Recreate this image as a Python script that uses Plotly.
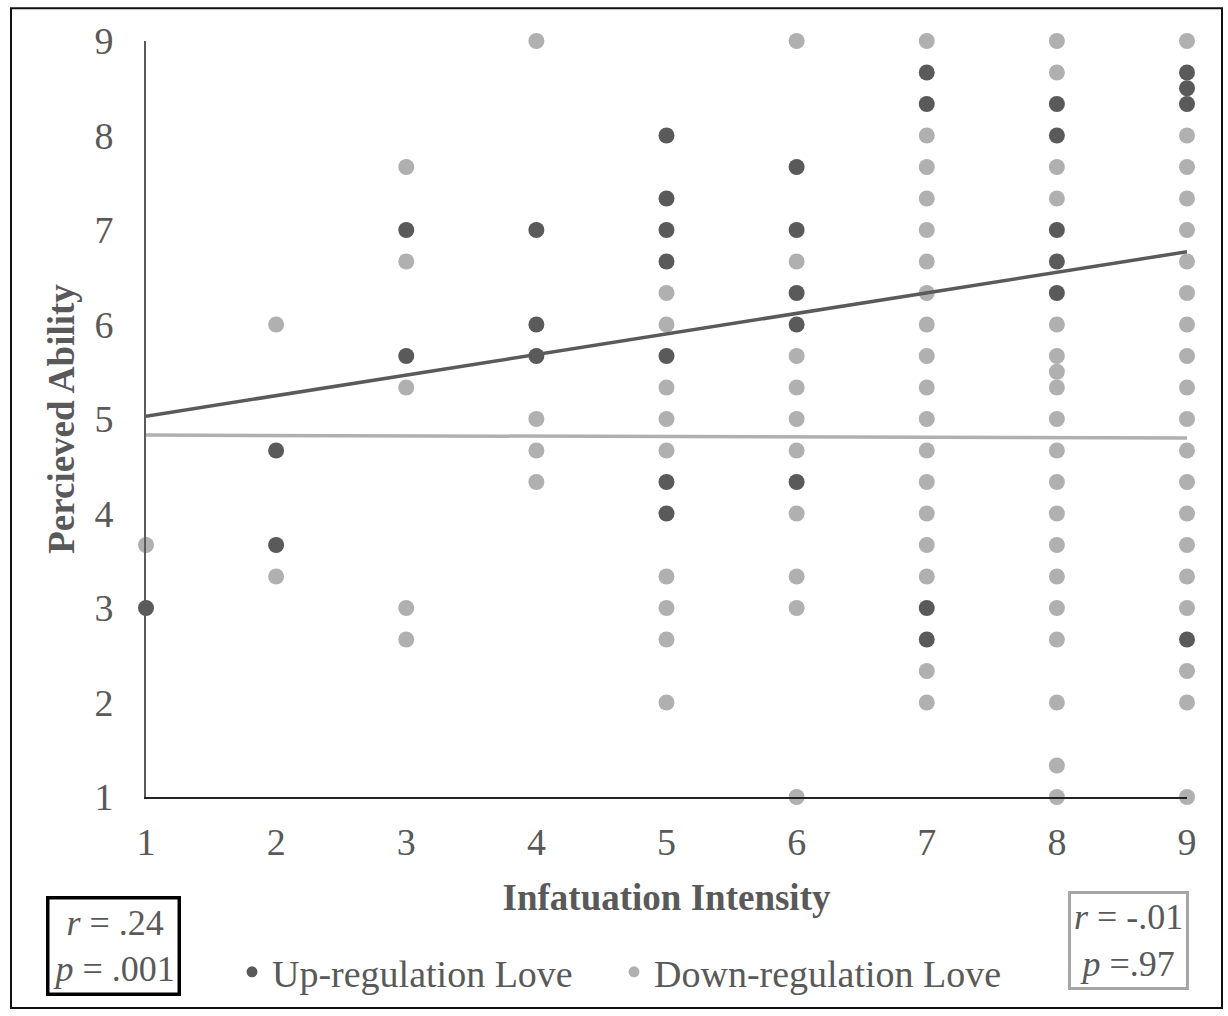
import plotly.graph_objects as go

# ---------------- data ----------------
x_ticks = [1, 2, 3, 4, 5, 6, 7, 8, 9]
y_ticks = [1, 2, 3, 4, 5, 6, 7, 8, 9]

up_x = [1,
        2, 2,
        3, 3,
        4, 4, 4,
        5, 5, 5, 5, 5, 5, 5,
        6, 6, 6, 6, 6,
        7, 7, 7, 7,
        8, 8, 8, 8, 8,
        9, 9, 9, 9]
up_y = [3,
        4.667, 3.667,
        7, 5.667,
        7, 6, 5.667,
        8, 7.333, 7, 6.667, 5.667, 4.333, 4,
        7.667, 7, 6.333, 6, 4.333,
        8.667, 8.333, 3, 2.667,
        8.333, 8, 7, 6.667, 6.333,
        8.667, 8.5, 8.333, 2.667]

down_x = [1,
          2, 2,
          3, 3, 3, 3, 3,
          4, 4, 4, 4,
          5, 5, 5, 5, 5, 5, 5, 5, 5,
          6, 6, 6, 6, 6, 6, 6, 6, 6, 6,
          7, 7, 7, 7, 7, 7, 7, 7, 7, 7, 7, 7, 7, 7, 7, 7, 7, 7,
          8, 8, 8, 8, 8, 8, 8, 8, 8, 8, 8, 8, 8, 8, 8, 8, 8, 8, 8,
          9, 9, 9, 9, 9, 9, 9, 9, 9, 9, 9, 9, 9, 9, 9, 9, 9, 9, 9, 9]
down_y = [3.667,
          6, 3.333,
          7.667, 6.667, 5.333, 3, 2.667,
          9, 5, 4.667, 4.333,
          6.333, 6, 5.333, 5, 4.667, 3.333, 3, 2.667, 2,
          9, 6.667, 5.667, 5.333, 5, 4.667, 4, 3.333, 3, 1,
          9, 8, 7.667, 7.333, 7, 6.667, 6.333, 6, 5.667, 5.333, 5, 4.667, 4.333, 4, 3.667, 3.333, 2.333, 2,
          9, 8.667, 7.667, 7.333, 6, 5.667, 5.5, 5.333, 5, 4.667, 4.333, 4, 3.667, 3.333, 3, 2.667, 2, 1.333, 1,
          9, 8, 7.667, 7.333, 7, 6.667, 6.333, 6, 5.667, 5.333, 5, 4.667, 4.333, 4, 3.667, 3.333, 3, 2.333, 2, 1]

# linear trend coefficients
up_intercept, up_slope = 4.8125, 0.2175
down_intercept, down_slope = 4.834, -0.004

series_names = ["Up-regulation Love", "Down-regulation Love"]
stats_up = ["<i>r</i> = .24", "<i>p</i> = .001"]
stats_down = ["<i>r</i> = -.01", "<i>p</i> =.97"]

# ---------------- style ----------------
DARK = "#5a5a5a"
LIGHT = "#b0b0b0"
TXT = "#595959"
FONT = "Liberation Serif"
FS = 38

W, H = 1228, 1016
L, R, T, B = 146, 41, 41, 215
PW, PH = W - L - R, H - T - B


def px(xp):
    return (xp - L) / PW


def py(yp):
    return (H - B - yp) / PH


fig = go.Figure()

fig.add_trace(go.Scatter(x=down_x, y=down_y, mode="markers", showlegend=False,
                         marker=dict(color=LIGHT, size=16), cliponaxis=False))
fig.add_trace(go.Scatter(x=up_x, y=up_y, mode="markers", showlegend=False,
                         marker=dict(color=DARK, size=16), cliponaxis=False))

tx = [x_ticks[0], x_ticks[-1]]
fig.add_trace(go.Scatter(x=tx, y=[up_intercept + up_slope * v for v in tx], mode="lines",
                         line=dict(color=DARK, width=3.5), showlegend=False, cliponaxis=False))
fig.add_trace(go.Scatter(x=tx, y=[down_intercept + down_slope * v for v in tx], mode="lines",
                         line=dict(color=LIGHT, width=3.5), showlegend=False, cliponaxis=False))

# legend-only traces
fig.add_trace(go.Scatter(x=[None], y=[None], mode="markers", name=series_names[0],
                         marker=dict(color=DARK, size=11), legend="legend"))
fig.add_trace(go.Scatter(x=[None], y=[None], mode="markers", name=series_names[1],
                         marker=dict(color=LIGHT, size=11), legend="legend2"))

legend_common = dict(orientation="h", yanchor="middle", xanchor="left",
                     font=dict(family=FONT, size=FS, color=TXT), itemwidth=30,
                     bgcolor="rgba(0,0,0,0)")

fig.update_layout(
    width=W, height=H,
    margin=dict(l=L, r=R, t=T, b=B),
    paper_bgcolor="white", plot_bgcolor="white",
    font=dict(family=FONT, color=TXT, size=FS),
    xaxis=dict(range=[1, 9], tickvals=x_ticks, showgrid=False, zeroline=False,
               showline=True, linecolor="#222222", linewidth=2,
               ticks="outside", ticklen=0, ticklabelstandoff=10,
               tickfont=dict(family=FONT, size=FS, color=TXT),
               title=dict(text="<b>Infatuation Intensity</b>", standoff=23,
                          font=dict(family=FONT, size=37, color=TXT))),
    yaxis=dict(range=[1, 9], tickvals=y_ticks, showgrid=False, zeroline=False,
               showline=True, linecolor=DARK, linewidth=2,
               ticks="outside", ticklen=0, ticklabelstandoff=23,
               tickfont=dict(family=FONT, size=FS, color=TXT),
               title=dict(text="<b>Percieved Ability</b>", standoff=8,
                          font=dict(family=FONT, size=37, color=TXT))),
    legend=dict(x=px(232), y=py(977), **legend_common),
    legend2=dict(x=px(614), y=py(977), **legend_common),
)

# outer border
fig.add_shape(type="rect", xref="paper", yref="paper",
              x0=px(11), x1=px(1222), y0=py(1013), y1=py(8),
              line=dict(color="#111111", width=2))

# statistic boxes
fig.add_annotation(xref="paper", yref="paper",
                   x=px(113), y=py(951),
                   text="<br>".join(stats_up), showarrow=False, align="center",
                   font=dict(family=FONT, size=36, color=TXT),
                   bordercolor="#000000", borderwidth=3.5, borderpad=3,
                   xanchor="center", yanchor="middle")
fig.add_annotation(xref="paper", yref="paper",
                   x=px(1128), y=py(945),
                   text="<br>".join(stats_down), showarrow=False, align="center",
                   font=dict(family=FONT, size=36, color=TXT),
                   bordercolor="#a6a6a6", borderwidth=3, borderpad=3,
                   xanchor="center", yanchor="middle")

fig.write_html("out.html", config={"displayModeBar": False},
               post_script="document.body.style.margin='0';document.body.style.overflow='hidden';")
